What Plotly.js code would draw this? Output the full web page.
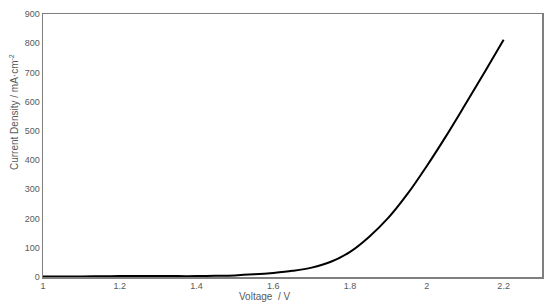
<!DOCTYPE html>
<html>
<head>
<meta charset="utf-8">
<script src="https://cdn.plot.ly/plotly-3.0.1.min.js"></script>
<style>
  html, body { margin: 0; padding: 0; background: #fff; }
  #plot { width: 550px; height: 308px; }
</style>
</head>
<body>
<div id="plot"></div>
<script>
// polarization curve
var voltage = [1.0, 1.05, 1.1, 1.15, 1.2, 1.25, 1.3, 1.35, 1.4, 1.45, 1.5, 1.55, 1.6, 1.65, 1.7, 1.75, 1.8, 1.85, 1.9, 1.95, 2.0, 2.05, 2.1, 2.15, 2.2];
var currentDensity = [2, 2, 2, 2.5, 3, 3, 3, 3, 3, 4, 5.5, 9, 14, 21, 32, 52, 86, 138, 203, 285, 380, 482, 590, 700, 812];

var xTicks = [1, 1.2, 1.4, 1.6, 1.8, 2, 2.2];
var yTicks = [0, 100, 200, 300, 400, 500, 600, 700, 800, 900];

var tickFont = { family: 'Liberation Sans, Arial, sans-serif', size: 9, color: '#595959' };
var titleFont = { family: 'Liberation Sans, Arial, sans-serif', size: 10, color: '#595959' };

var trace = {
  x: voltage,
  y: currentDensity,
  type: 'scatter',
  mode: 'lines',
  line: { color: '#000000', width: 2, shape: 'spline', smoothing: 1 },
  hoverinfo: 'skip'
};

var layout = {
  width: 550,
  height: 308,
  margin: { t: 14, l: 43, r: 8, b: 31 },
  paper_bgcolor: '#ffffff',
  plot_bgcolor: '#ffffff',
  showlegend: false,
  xaxis: {
    range: [1, 2.3],
    tickvals: xTicks,
    ticktext: xTicks.map(String),
    showgrid: false,
    zeroline: false,
    showline: true,
    mirror: true,
    linecolor: '#7f7f7f',
    linewidth: 1.5,
    ticks: '',
    tickfont: tickFont
  },
  yaxis: {
    range: [0, 900],
    tickvals: yTicks,
    showgrid: false,
    zeroline: false,
    showline: true,
    mirror: true,
    linecolor: '#7f7f7f',
    linewidth: 1.5,
    ticks: '',
    tickfont: tickFont
  },
  // axis titles sit off-centre in the original, so place them by hand
  annotations: [
    {
      text: 'Voltage  / V',
      xref: 'paper', yref: 'paper',
      x: (264 - 43) / 499, y: (308 - 296 - 31) / 263,
      xanchor: 'center', yanchor: 'middle',
      showarrow: false,
      font: titleFont
    },
    {
      text: 'Current Density / mA·cm<sup>-2</sup>',
      xref: 'paper', yref: 'paper',
      x: (14 - 43) / 499, y: (277 - 112) / 263,
      xanchor: 'center', yanchor: 'middle',
      textangle: -90,
      showarrow: false,
      font: titleFont
    }
  ]
};

Plotly.newPlot('plot', [trace], layout, { staticPlot: true });
</script>
</body>
</html>
